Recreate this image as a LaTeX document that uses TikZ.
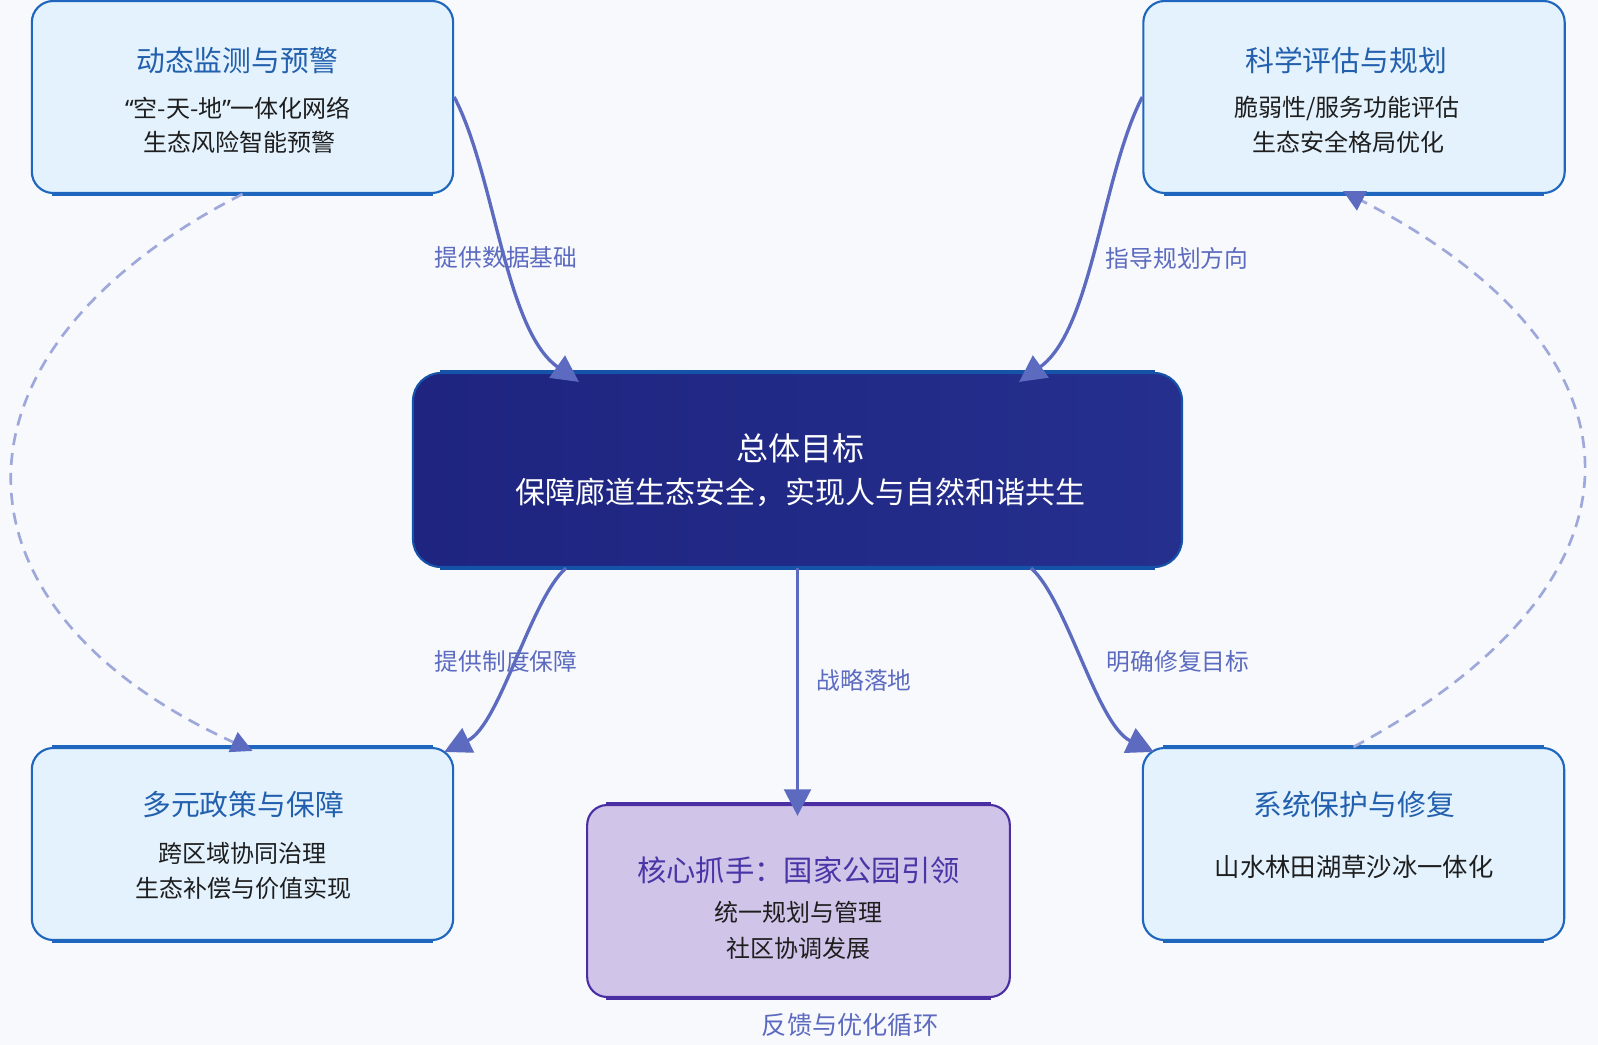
\documentclass[tikz,border=0pt]{standalone}
\usepackage{fontspec}
\setmainfont{Noto Sans CJK SC}
\newfontfamily\qfont{Noto Sans}
\usetikzlibrary{arrows.meta,calc}
\definecolor{bgc}{HTML}{F7F9FC}
\definecolor{lbfill}{HTML}{E3F2FD}
\definecolor{lbdraw}{HTML}{1E66BE}
\definecolor{lbtitle}{HTML}{2260AE}
\definecolor{ctrA}{HTML}{1E2480}
\definecolor{ctrB}{HTML}{252F8D}
\definecolor{ctrdraw}{HTML}{1553A9}
\definecolor{pfill}{HTML}{D1C4E9}
\definecolor{pdraw}{HTML}{4A2FA3}
\definecolor{ptitle}{HTML}{4836A6}
\definecolor{edgec}{HTML}{5C6BC0}
\definecolor{dashc}{HTML}{9FA8DA}
\definecolor{bodyc}{HTML}{1E1E1E}
\begin{document}
\begin{tikzpicture}[x=0.75pt,y=-0.75pt,
  lbox/.style={draw=lbdraw, line width=1.6pt, fill=lbfill, rounded corners=16pt,
    minimum width=316pt, minimum height=144pt, inner sep=0pt},
  ctrbox/.style={draw=ctrdraw, line width=1.6pt, left color=ctrA, right color=ctrB,
    rounded corners=21pt, minimum width=576.75pt, minimum height=145.5pt, inner sep=0pt},
  pbox/.style={draw=pdraw, line width=1.6pt, fill=pfill, rounded corners=15pt,
    minimum width=317pt, minimum height=144pt, inner sep=0pt},
  ttl/.style={inner sep=0pt, text=lbtitle, font=\fontsize{21.6}{24}\selectfont},
  bdy/.style={inner sep=0pt, text=bodyc, font=\fontsize{18}{21}\selectfont},
  lbl/.style={inner sep=0pt, text=edgec, font=\fontsize{17.8}{20}\selectfont},
  flow/.style={draw=edgec, line width=2.5pt, -{Triangle[length=20pt,width=20pt]}},
  dflow/.style={draw=dashc, line width=2pt, dash pattern=on 9pt off 6pt,
    -{Triangle[length=16pt,width=16pt,color=edgec]}}
]
\useasboundingbox (0,0) rectangle (1598,1045);
\fill[bgc] (0,0) rectangle (1598,1045);

% boxes
\node[lbox] (tl) at (242.5,97) {};
\node[lbox] (tr) at (1354,97) {};
\node[lbox] (bl) at (242.5,844) {};
\node[lbox] (br) at (1353.5,844) {};
\node[ctrbox] (ctr) at (797.5,470) {};
\node[pbox] (bc) at (798.5,901) {};

\foreach \n in {tl,tr,bl,br}{
  \draw[lbdraw, line width=2.6pt] ([xshift=16pt]\n.south west) -- ([xshift=-16pt]\n.south east);
  \draw[lbdraw, line width=2.2pt] ([xshift=16pt]\n.north west) -- ([xshift=-16pt]\n.north east);
}
\draw[ctrdraw, line width=2.6pt] ([xshift=21pt]ctr.south west) -- ([xshift=-21pt]ctr.south east);
\draw[ctrdraw, line width=2.6pt] ([xshift=21pt]ctr.north west) -- ([xshift=-21pt]ctr.north east);
\draw[pdraw, line width=2.6pt] ([xshift=15pt]bc.south west) -- ([xshift=-15pt]bc.south east);
\draw[pdraw, line width=2.6pt] ([xshift=15pt]bc.north west) -- ([xshift=-15pt]bc.north east);

% texts
\node[ttl] (tlT) at (237,60) {动态监测与预警};
\node[bdy] (tlB1) at (238,108) {{\qfont “}空-天-地{\qfont ”}一体化网络};
\node[bdy] (tlB2) at (239,142) {生态风险智能预警};

\node[ttl] (trT) at (1346,60) {科学评估与规划};
\node[bdy] (trB1) at (1347,108) {脆弱性/服务功能评估};
\node[bdy] (trB2) at (1348,142) {生态安全格局优化};

\node[inner sep=0pt, text=white, font=\fontsize{24}{28}\selectfont] (ctrT) at (800,448) {总体目标};
\node[inner sep=0pt, text=white, font=\fontsize{22.5}{26}\selectfont] (ctrB) at (800,492) {保障廊道生态安全，实现人与自然和谐共生};

\node[ttl] (blT) at (243,805) {多元政策与保障};
\node[bdy] (blB1) at (242,853) {跨区域协同治理};
\node[bdy] (blB2) at (243,888) {生态补偿与价值实现};

\node[ttl] (brT) at (1354,805) {系统保护与修复};
\node[bdy, font=\fontsize{19}{22}\selectfont] (brB) at (1354,867) {山水林田湖草沙冰一体化};

\node[inner sep=0pt, text=ptitle, font=\fontsize{22}{25}\selectfont] (bcT) at (798.5,870) {核心抓手：国家公园引领};
\node[bdy] (bcB1) at (798,912) {统一规划与管理};
\node[bdy] (bcB2) at (798,948) {社区协调发展};

% connector end points
\coordinate (e1) at ($(ctr.north west)+(167,10)$);
\coordinate (e2) at ($(ctr.north east)+(-164,10)$);
\coordinate (s3) at ($(ctr.south west)+(154,0)$);
\coordinate (e3) at ($(bl.north east)+(-10,5)$);
\coordinate (s5) at ($(ctr.south east)+(-152,0)$);
\coordinate (e5) at ($(br.north west)+(12,5)$);
\coordinate (e4) at ($(ctr.south |- bc.north)+(0,12)$);
\coordinate (e6) at ($(bl.north)+(10,4)$);
\coordinate (e7) at ($(tr.south)+(-11,-3)$);

% solid connectors
\draw[flow] (tl.east) .. controls (495,175) and (505,330) .. (e1);
\draw[flow] (tr.west) .. controls (1102,175) and (1092,330) .. (e2);
\draw[flow] (s3) .. controls (530,600) and (500,725) .. (e3);
\draw[flow] (s5) .. controls (1067,600) and (1097,725) .. (e5);
\draw[flow] (ctr.south) -- (e4);

% dashed feedback connectors
\draw[dflow] (tl.south) .. controls (-65,351) and (-65,606) .. (e6);
\draw[dflow] (br.north) .. controls (1661,582) and (1661,355) .. (e7);

% labels
\node[lbl] (l1) at (506,258) {提供数据基础};
\node[lbl] (l2) at (1177,258) {指导规划方向};
\node[lbl] (l3) at (506,661) {提供制度保障};
\node[lbl] (l5) at (1178,662) {明确修复目标};
\node[lbl] (l4) at (864,680) {战略落地};
\node[lbl, font=\fontsize{18.9}{21}\selectfont] (l6) at (850,1025) {反馈与优化循环};
\end{tikzpicture}
\end{document}
